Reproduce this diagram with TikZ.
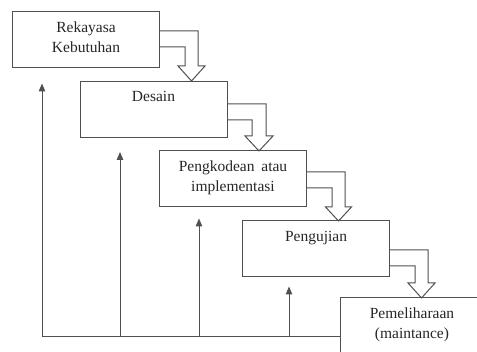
\documentclass[tikz,border=0pt]{standalone}
\usepackage{fontspec}
\setmainfont{Liberation Serif}
\usetikzlibrary{arrows.meta,calc}
\definecolor{linec}{HTML}{505050}
\begin{document}
\begin{tikzpicture}[x=1pt,y=-1pt,
  box/.style={draw=linec,line width=1pt,minimum width=147pt,minimum height=56pt,inner sep=0pt},
  txt/.style={anchor=north,inner sep=0pt,align=center,text=black!85,font=\fontsize{15.5}{20}\selectfont},
  fb/.style={draw=linec,line width=1pt,-{Triangle[length=8pt,width=6.5pt]}},
  plain/.style={draw=linec,line width=1pt},
  hollow/.style={draw=linec,line width=1pt,line join=miter}]
\useasboundingbox (0,0) rectangle (477,352);
\clip (0,0) rectangle (477,352);
% boxes
\node[box] (b1) at (86,40) {};
\node[box] (b2) at (153.5,109.5) {};
\node[box] (b3) at (233,179) {};
\node[box] (b4) at (316,249) {};
\node[box] (b5) at (413.5,326) {};
% texts
\node[txt] (t1) at ($(b1.north)+(0,10.4)$) {Rekayasa\\Kebutuhan};
\node[txt] (t2) at ($(b2.north)+(0,10.4)$) {Desain};
\node[txt] (t3) at ($(b3.north)+(0,10.4)$) {Pengkodean\hspace{3pt} atau\\implementasi};
\node[txt] (t4) at ($(b4.north)+(0,10.4)$) {Pengujian};
\node[txt] (t5) at ($(b5.north)+(-1.5,10.4)$) {Pemeliharaan\\(maintance)};
% hollow arrows
\draw[hollow] (b1.east |- 0,31) -- (198,31) -- (198,66) -- (205,66) -- (191.5,81) -- (178,66) -- (185,66) -- (185,47) -- (b1.east |- 0,47);
\draw[hollow] (b2.east |- 0,104) -- (266,104) -- (266,136) -- (273,136) -- (259,151) -- (245,136) -- (252,136) -- (252,120) -- (b2.east |- 0,120);
\draw[hollow] (b3.east |- 0,172) -- (345,172) -- (345,207) -- (351.5,207) -- (338.5,221) -- (325.5,207) -- (332,207) -- (332,188) -- (b3.east |- 0,188);
\draw[hollow] (b4.east |- 0,250) -- (428,250) -- (428,283) -- (435,283) -- (421.5,298) -- (408,283) -- (415,283) -- (415,266) -- (b4.east |- 0,266);
% feedback
\coordinate (f1) at (42,337);
\coordinate (f2) at (120,337);
\coordinate (f3) at (199,337);
\coordinate (f4) at (289,337);
\draw[plain] (b5.west |- f1) -- (f1);
\draw[fb] (f1) -- ($(f1 |- b1.south)+(0,15)$);
\draw[fb] (f2) -- ($(f2 |- b2.south)+(0,14)$);
\draw[fb] (f3) -- ($(f3 |- b3.south)+(0,11)$);
\draw[fb] (f4) -- ($(f4 |- b4.south)+(0,9)$);
\end{tikzpicture}
\end{document}
